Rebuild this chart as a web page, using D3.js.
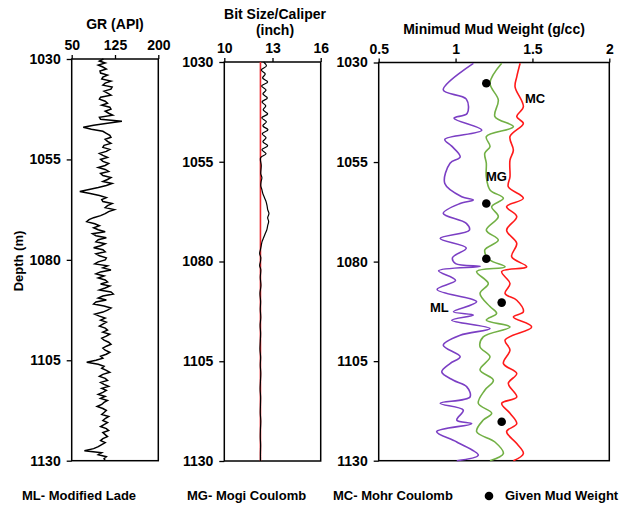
<!DOCTYPE html>
<html>
<head>
<meta charset="utf-8">
<script src="https://cdn.jsdelivr.net/npm/d3@7.9.0/dist/d3.min.js"></script>
<style>
  body { margin: 0; background: #fff; }
  text { font-family: "Liberation Sans", Arial, sans-serif; font-weight: bold; fill: #000; }
</style>
</head>
<body>
<svg id="chart" width="624" height="506"></svg>
<script>
// depth ticks shared by every track
const depthTicks = [1030, 1055, 1080, 1105, 1130];

// GR log, one value every 0.5 m from 1030 m
const grTop = 1030, grStep = 0.5;
const grValues = [
  105,98,108,96,104,110,99,100,112,104,
  102,118,108,104,120,118,106,112,118,100,
  98,108,112,102,116,118,108,114,121,98,
  100,137,112,88,70,84,104,110,116,118,
  108,112,118,106,104,116,110,98,104,112,
  100,104,114,108,96,108,114,100,104,118,
  112,104,120,110,96,80,64,82,98,110,
  102,104,120,112,108,124,114,108,100,88,
  80,76,90,98,88,96,108,86,92,110,
  96,92,108,100,88,104,108,92,98,110,
  108,96,90,112,104,118,100,92,106,96,
  108,112,100,116,108,98,118,122,104,96,
  110,92,88,106,118,112,104,90,98,108,
  100,110,104,98,108,112,104,116,110,102,
  106,114,118,110,104,108,116,110,100,104,
  92,76,96,106,102,110,116,104,98,108,
  112,100,106,114,102,110,104,96,108,100,
  112,106,102,94,104,110,106,102,114,108,
  104,112,106,100,110,114,104,108,112,104,
  100,108,102,96,88,72,102,96,110,106,
  108
];
const grTicks = [50, 125, 200];

// caliper
const bitSize = 12.25;
const calDepth = [1030,1031,1032,1033,1034,1035,1036,1037,1038,1039,1040,1041,1042,1043,1044,1045,1046,1047,1048,1049,1050,1051,1052,1053,1054,1056,1058,1059,1060,1061,1062,1063,1064,1065,1066,1067,1068,1069,1070,1071,1072,1073,1074,1075,1076,1077,1078,1079,1080,1081,1082,1084,1086,1088,1090,1092,1094,1096,1098,1100,1102,1104,1106,1108,1110,1112,1114,1116,1118,1120,1122,1124,1126,1128,1130];
const calValue = [12.45,12.62,12.3,12.55,12.38,12.7,12.32,12.6,12.4,12.68,12.35,12.58,12.42,12.7,12.33,12.62,12.4,12.72,12.36,12.6,12.4,12.7,12.34,12.6,12.26,12.3,12.27,12.34,12.29,12.27,12.34,12.4,12.5,12.6,12.66,12.7,12.78,12.7,12.76,12.7,12.65,12.55,12.45,12.35,12.3,12.25,12.2,12.27,12.25,12.2,12.27,12.24,12.28,12.22,12.26,12.24,12.27,12.23,12.26,12.24,12.22,12.26,12.24,12.27,12.25,12.23,12.26,12.25,12.24,12.27,12.25,12.24,12.26,12.25,12.25];
const calTicks = [10, 13, 16];

// mud weight curves
const mlDepth = [1030.2,1036.9,1039.2,1042.8,1044,1047,1049.3,1051,1053.7,1055.3,1060.4,1063.7,1064.5,1065.4,1067.9,1070.4,1072.1,1074.2,1076.6,1079,1080.5,1081.2,1082.3,1084.7,1087,1090.1,1092.6,1093.4,1094.7,1096.8,1098.5,1101,1103.9,1105.6,1107.7,1109.8,1111.4,1114,1115.6,1117.3,1119.8,1120.7,1122.7,1125.3,1128.6,1130];
const mlValue = [1.116,0.92,1.07,1.075,0.99,1.17,0.93,0.975,1.03,0.964,0.93,1.04,1.116,1.03,0.92,1.07,1.09,0.9,1.07,0.98,1.0,1.16,0.89,1.0,0.88,1.137,0.986,1.116,0.975,1.224,1.03,0.92,1.03,0.964,0.91,0.986,1.072,1.094,0.9,1.05,1.008,1.105,0.877,1.008,1.148,1.008];

const mgDepth = [1030.2,1035.2,1039.4,1043.6,1046.1,1048.6,1051.1,1052.8,1055.3,1058.7,1062,1064.1,1066.2,1068.7,1072.1,1074.6,1077.1,1079.6,1081.3,1082.5,1085.5,1088,1091.3,1093,1094.7,1096.4,1098.9,1101.4,1103.9,1107.2,1109.8,1112.3,1115.6,1118.1,1119.8,1122.7,1125.3,1128.2,1130];
const mgValue = [1.3,1.224,1.278,1.256,1.376,1.2,1.224,1.19,1.2,1.2,1.224,1.311,1.235,1.278,1.2,1.278,1.19,1.224,1.322,1.137,1.213,1.159,1.224,1.267,1.2,1.354,1.18,1.159,1.224,1.159,1.246,1.19,1.148,1.235,1.18,1.137,1.256,1.311,1.224];

const mcDepth = [1030.2,1033.6,1036.1,1041.1,1043.6,1045.3,1048.6,1052,1054.5,1058.7,1061.2,1064.1,1066.2,1068.7,1072.1,1075.4,1078.8,1081.3,1082.5,1085.5,1088,1089.7,1092.6,1093.9,1096.4,1099.7,1102.2,1105.6,1108.1,1110.6,1114,1115.6,1118.1,1120.7,1122.7,1125.7,1128.2,1130];
const mcValue = [1.42,1.398,1.387,1.441,1.398,1.441,1.354,1.376,1.354,1.354,1.343,1.441,1.332,1.398,1.332,1.398,1.365,1.463,1.3,1.354,1.322,1.398,1.441,1.376,1.495,1.322,1.354,1.311,1.398,1.343,1.398,1.3,1.354,1.398,1.332,1.398,1.441,1.376];

const givenDepth = [1035.2, 1065.4, 1079.3, 1090.3, 1120.2];
const givenValue = [1.2, 1.2, 1.2, 1.3, 1.3];
const mwTicks = [0.5, 1, 1.5, 2];

const svg = d3.select('#chart');

// one track = frame + top axis + depth axis
function makeTrack(x0, x1, y0, y1, domain, ticks, fmt) {
  const x = d3.scaleLinear().domain(domain).range([x0, x1]);
  const y = d3.scaleLinear().domain([1030, 1130]).range([y0, y1]);
  const g = svg.append('g');

  g.append('g')
    .attr('transform', `translate(0,${y0})`)
    .call(d3.axisTop(x).tickValues(ticks).tickSize(4).tickPadding(5).tickFormat(fmt))
    .call(a => a.select('.domain').remove())
    .call(a => a.selectAll('text').attr('font-size', 14))
    .call(a => a.selectAll('line').attr('stroke-width', 1.3));

  g.append('g')
    .attr('transform', `translate(${x0},0)`)
    .call(d3.axisLeft(y).tickValues(depthTicks).tickSize(5).tickPadding(6).tickFormat(d3.format('d')))
    .call(a => a.select('.domain').remove())
    .call(a => a.selectAll('text').attr('font-size', 14))
    .call(a => a.selectAll('line').attr('stroke-width', 1.3));

  g.append('rect')
    .attr('x', x0).attr('y', y0)
    .attr('width', x1 - x0).attr('height', y1 - y0)
    .attr('fill', 'none').attr('stroke', '#000').attr('stroke-width', 1.5);

  return { x, y, g };
}

// GR track
const gr = makeTrack(71.7, 158.3, 59, 460.7, [50, 200], grTicks, d3.format('d'));
gr.g.append('path')
  .datum(grValues)
  .attr('fill', 'none').attr('stroke', '#000').attr('stroke-width', 1.5)
  .attr('d', d3.line().x(d => gr.x(d)).y((d, i) => gr.y(grTop + i * grStep)));
svg.append('text').attr('x', 115).attr('y', 29).attr('text-anchor', 'middle')
  .attr('font-size', 14).text('GR (API)');

// caliper track
const cal = makeTrack(224.3, 320.7, 62, 461, [10, 16], calTicks, d3.format('d'));
cal.g.append('line')
  .attr('x1', cal.x(bitSize)).attr('x2', cal.x(bitSize))
  .attr('y1', cal.y(1030)).attr('y2', cal.y(1130))
  .attr('stroke', '#e8262b').attr('stroke-width', 1.6);
const calLine = d3.line().curve(d3.curveCatmullRom)
  .x(d => cal.x(d[0])).y(d => cal.y(d[1]));
cal.g.append('path')
  .datum(calDepth.map((d, i) => [calValue[i], d]))
  .attr('fill', 'none').attr('stroke', '#000').attr('stroke-width', 1.2)
  .attr('d', calLine);
svg.append('text').attr('x', 275).attr('y', 19).attr('text-anchor', 'middle')
  .attr('font-size', 14).text('Bit Size/Caliper');
svg.append('text').attr('x', 275).attr('y', 35).attr('text-anchor', 'middle')
  .attr('font-size', 14).text('(inch)');

// mud weight track
const mw = makeTrack(378.7, 609.3, 62.5, 460.7, [0.5, 2], mwTicks, d => d);
const smooth = d3.line().curve(d3.curveCatmullRom.alpha(0.5))
  .x(d => mw.x(d[0])).y(d => mw.y(d[1]));
[
  [mlValue, mlDepth, '#7b3fc4'],
  [mgValue, mgDepth, '#72b045'],
  [mcValue, mcDepth, '#ff1a1a']
].forEach(([vals, deps, col]) => {
  mw.g.append('path')
    .datum(deps.map((d, i) => [vals[i], d]))
    .attr('fill', 'none').attr('stroke', col).attr('stroke-width', 1.6)
    .attr('d', smooth);
});
mw.g.selectAll('circle.given')
  .data(givenDepth)
  .join('circle')
  .attr('cx', (d, i) => mw.x(givenValue[i]))
  .attr('cy', d => mw.y(d))
  .attr('r', 4.3)
  .attr('fill', '#000');
svg.append('text').attr('x', 494).attr('y', 34).attr('text-anchor', 'middle')
  .attr('font-size', 14).text('Minimud Mud Weight (g/cc)');

// curve labels
svg.append('text').attr('x', 525).attr('y', 103).attr('font-size', 13).text('MC');
svg.append('text').attr('x', 486).attr('y', 181).attr('font-size', 13).text('MG');
svg.append('text').attr('x', 430).attr('y', 312).attr('font-size', 13).text('ML');

// depth label
svg.append('text')
  .attr('transform', 'translate(23,261) rotate(-90)')
  .attr('text-anchor', 'middle').attr('font-size', 13)
  .text('Depth (m)');

// bottom legend
svg.append('text').attr('x', 22).attr('y', 500).attr('font-size', 13).text('ML- Modified Lade');
svg.append('text').attr('x', 187).attr('y', 500).attr('font-size', 13).text('MG- Mogi Coulomb');
svg.append('text').attr('x', 333).attr('y', 500).attr('font-size', 13).text('MC- Mohr Coulomb');
svg.append('circle').attr('cx', 489).attr('cy', 496).attr('r', 4.3).attr('fill', '#000');
svg.append('text').attr('x', 505).attr('y', 500).attr('font-size', 13).text('Given Mud Weight');
</script>
</body>
</html>
